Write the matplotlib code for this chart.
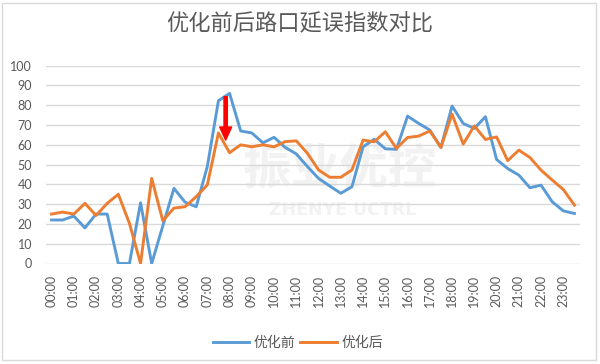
import matplotlib
matplotlib.use("Agg")
import matplotlib.pyplot as plt
from matplotlib.patches import FancyArrowPatch, Rectangle


TITLE = "优化前后路口延误指数对比"
SERIES_NAMES = ["优化前", "优化后"]

# half-hour slots 00:00 .. 23:30
slots = [f"{h:02d}:{m:02d}" for h in range(24) for m in (0, 30)]

before = [
    22, 22, 24, 18, 25, 25, 0, 0, 30.7, 0, 19, 38,
    31, 28.7, 49, 82.3, 86, 67, 66, 61, 63.8, 58.7, 55.4, 49,
    43, 39.2, 35.5, 38.8, 59, 62.8, 58, 57.7, 74.5, 70.8, 67.5, 58.7,
    79.6, 70.8, 68.3, 74.2, 52.6, 48, 44.7, 38.3, 39.6, 31.2, 26.6, 25.3,
]
after = [
    25, 26, 25, 30.4, 24.3, 30.4, 35, 20.3, 0, 43, 21.6, 28,
    28.7, 33.8, 39.7, 66, 56, 60, 59, 60, 59, 61.6, 62, 55.7,
    47.3, 43.6, 43.6, 47.3, 62.4, 61.5, 66.6, 58.2, 63.7, 64.4, 67, 58.7,
    75.5, 60.4, 69.6, 62.7, 64, 52, 57.3, 53.6, 47.2, 42.2, 37.4, 29.5,
]

# red arrow marking the 08:00 drop (x in slot units, y in index units)
arrow_x = 15.65
arrow_from = 84.3
arrow_to = 62.4

BLUE = "#5B9BD5"
ORANGE = "#ED7D31"
TEXT = "#595959"
GRID = "#D9D9D9"

plt.rcParams["font.family"] = ["Noto Sans CJK SC", "DejaVu Sans"]

fig = plt.figure(figsize=(6, 3.64), dpi=100)
ax = fig.add_axes([46 / 600, 1 - 263.5 / 364, 534 / 600, 197.8 / 364])

x = list(range(len(slots)))

# faint watermark behind the lines
ax.text(0.55, 0.48, "振业优控", transform=ax.transAxes, ha="center", va="center",
        fontsize=35, color="#F2F2F2", fontweight="bold", zorder=0)
ax.text(0.556, 0.27, "ZHENYE UCTRL", transform=ax.transAxes, ha="center", va="center",
        fontsize=12.5, color="#F2F2F2", fontweight="bold", family=["DejaVu Sans"], zorder=0)

ax.plot(x, before, color=BLUE, linewidth=2.1, label=SERIES_NAMES[0], zorder=3,
        solid_joinstyle="round")
ax.plot(x, after, color=ORANGE, linewidth=2.1, label=SERIES_NAMES[1], zorder=4,
        solid_joinstyle="round")

ax.add_patch(FancyArrowPatch(
    (arrow_x, arrow_from), (arrow_x, arrow_to),
    arrowstyle="simple,head_length=0.94,head_width=0.86,tail_width=0.24",
    mutation_scale=10, color="#FF0000", shrinkA=0, shrinkB=0, zorder=5,
))

ax.set_xlim(-0.5, len(slots) - 0.5)
ax.set_ylim(0, 100)
ax.set_yticks(range(0, 101, 10))
ax.set_xticks(x[::2])
ax.set_xticklabels(slots[::2], rotation=90, family=["Lato", "DejaVu Sans"])
for label in ax.get_yticklabels():
    label.set_family(["Lato", "DejaVu Sans"])
ax.tick_params(axis="both", length=0, labelsize=9, labelcolor=TEXT)
ax.tick_params(axis="y", pad=10)
ax.tick_params(axis="x", pad=8)

ax.grid(axis="y", color=GRID, linewidth=1.0)
ax.set_axisbelow(True)
for spine in ax.spines.values():
    spine.set_visible(False)

fig.text(0.5, 1 - 24 / 364, TITLE, ha="center", va="center", fontsize=16, color=TEXT)

fig.legend(loc="center", bbox_to_anchor=(298 / 600, 1 - 343 / 364), ncol=2,
           frameon=False, fontsize=10, labelcolor=TEXT, handlelength=2.6,
           handletextpad=0.35, columnspacing=0.35)

fig.patches.append(Rectangle((2 / 600, 1 - 360 / 364), 594 / 600, 357 / 364,
                             transform=fig.transFigure, fill=False,
                             edgecolor=GRID, linewidth=1.0))

fig.savefig("out.png", dpi=100)
plt.close(fig)
